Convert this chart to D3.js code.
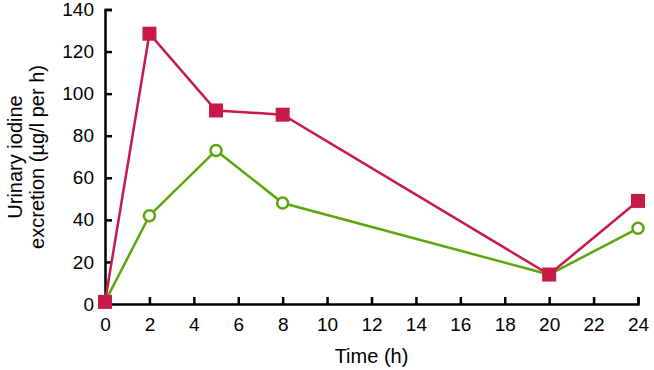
<!DOCTYPE html>
<html><head><meta charset="utf-8">
<script src="https://cdn.jsdelivr.net/npm/d3@7"></script>
<style>body{margin:0;background:#fff}svg{display:block}text{font-family:"Liberation Sans",Arial,sans-serif}</style>
</head><body>
<svg id="c" width="654" height="370"></svg>
<script>
const times = [0, 2, 5, 8, 20, 24];
const seriesRed = [1, 128.5, 92, 90, 14, 49];
const seriesGreen = [1, 42, 73, 48, 14, 36];
const xTicks = [0,2,4,6,8,10,12,14,16,18,20,22,24];
const yTicks = [0,20,40,60,80,100,120,140];
const xLabel = "Time (h)";
const yLabelLines = ["Urinary iodine", "excretion (µg/l per h)"];

const svg = d3.select("#c");
const x = d3.scaleLinear().domain([0,24]).range([105,638]);
const y = d3.scaleLinear().domain([0,140]).range([304,9.5]);
const red = "#c81a48", green = "#5aa60c";

const xa = svg.append("g").attr("transform",`translate(0,${y(0)})`)
  .call(d3.axisBottom(x).tickValues(xTicks).tickSize(-7).tickPadding(14));
const ya = svg.append("g").attr("transform",`translate(${x(0)},0)`)
  .call(d3.axisLeft(y).tickValues(yTicks).tickSize(-7).tickPadding(11));
[xa,ya].forEach(a=>{
  a.select(".domain").attr("stroke","#000").attr("stroke-width",2.5);
  a.selectAll(".tick line").attr("stroke","#000").attr("stroke-width",2.5);
  a.selectAll("text").attr("font-size",19).attr("fill","#000");
});
xa.selectAll("text").attr("dy","0.71em");

svg.append("text").attr("x",x(12)).attr("y",363).attr("text-anchor","middle")
  .attr("font-size",20).text(xLabel);
const yl = svg.append("text").attr("transform","translate(22,157) rotate(-90)")
  .attr("text-anchor","middle").attr("font-size",20);
yLabelLines.forEach((t,i)=>yl.append("tspan").attr("x",0).attr("dy",i?22:0).text(t));

const line = d3.line().x(d=>x(d[0])).y(d=>y(d[1]));
const gData = times.map((t,i)=>[t,seriesGreen[i]]);
const rData = times.map((t,i)=>[t,seriesRed[i]]);
svg.append("path").datum(gData).attr("d",line).attr("fill","none").attr("stroke",green).attr("stroke-width",2.5);
svg.append("path").datum(rData).attr("d",line).attr("fill","none").attr("stroke",red).attr("stroke-width",2.5);
svg.selectAll(".gc").data(gData).enter().append("circle")
  .attr("cx",d=>x(d[0])).attr("cy",d=>y(d[1])).attr("r",5.5)
  .attr("fill","#fff").attr("stroke",green).attr("stroke-width",2.5);
svg.selectAll(".rs").data(rData).enter().append("rect")
  .attr("x",d=>x(d[0])-7).attr("y",d=>y(d[1])-7).attr("width",14).attr("height",14)
  .attr("fill",red);
</script>
</body></html>
